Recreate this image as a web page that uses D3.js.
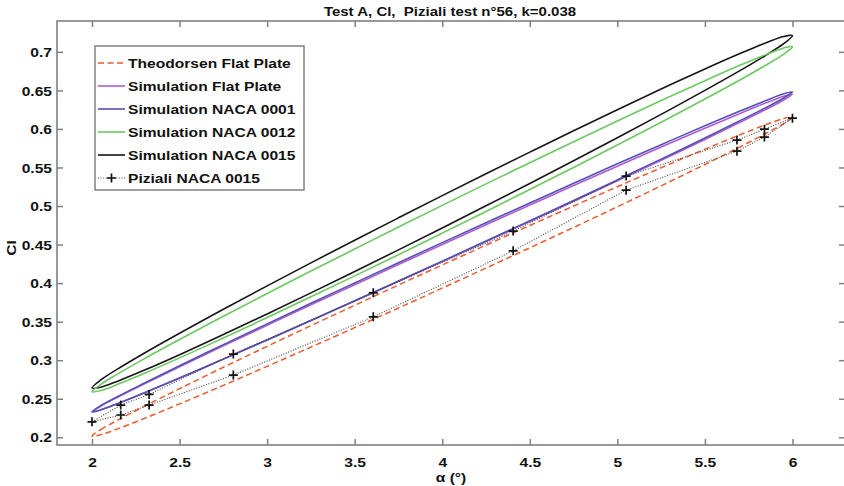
<!DOCTYPE html>
<html>
<head>
<meta charset="utf-8">
<script src="https://cdn.jsdelivr.net/npm/d3@7"></script>
<style>
  html, body { margin: 0; padding: 0; background: #fff; }
  svg { display: block; }
  text { font-family: "Liberation Sans", Arial, sans-serif; font-weight: bold; fill: #111; white-space: pre; }
</style>
</head>
<body>
<svg id="chart" width="844" height="486"></svg>
<script>
// ---------- data ----------
const titleText = "Test A, Cl,  Piziali test n°56, k=0.038";
const xLabel = "α (°)";
const yLabel = "Cl";
const xTicks = [2, 2.5, 3, 3.5, 4, 4.5, 5, 5.5, 6];
const yTicks = [0.2, 0.25, 0.3, 0.35, 0.4, 0.45, 0.5, 0.55, 0.6, 0.65, 0.7];
const seriesNames = ["Theodorsen Flat Plate", "Simulation Flat Plate", "Simulation NACA 0001",
                     "Simulation NACA 0012", "Simulation NACA 0015", "Piziali NACA 0015"];

// angle of attack samples for the simulated / theoretical loops
const alphaPts = [2, 2.05, 2.15, 2.3, 2.5, 2.75, 3, 3.25, 3.5, 3.75, 4, 4.25, 4.5, 4.75, 5, 5.25, 5.5, 5.7, 5.85, 5.95, 6];

const theoUpper = [0.2015, 0.2100, 0.2227, 0.2404, 0.2631, 0.2908, 0.3180, 0.3448, 0.3712, 0.3975, 0.4235, 0.4493, 0.4748, 0.5000, 0.5250, 0.5496, 0.5737, 0.5924, 0.6057, 0.6136, 0.6155];
const theoLower = [0.2015, 0.2034, 0.2113, 0.2246, 0.2433, 0.2674, 0.2920, 0.3170, 0.3422, 0.3677, 0.3935, 0.4195, 0.4458, 0.4722, 0.4990, 0.5262, 0.5539, 0.5766, 0.5943, 0.6070, 0.6155];

const flatUpper = [0.2332, 0.2405, 0.2525, 0.2695, 0.2916, 0.3187, 0.3453, 0.3718, 0.3980, 0.4241, 0.4500, 0.4757, 0.5012, 0.5266, 0.5517, 0.5766, 0.6010, 0.6201, 0.6339, 0.6424, 0.6450];
const flatLower = [0.2332, 0.2357, 0.2441, 0.2579, 0.2770, 0.3015, 0.3263, 0.3514, 0.3768, 0.4023, 0.4280, 0.4539, 0.4800, 0.5062, 0.5327, 0.5594, 0.5864, 0.6085, 0.6255, 0.6376, 0.6450];

const n0001Upper = [0.2330, 0.2409, 0.2532, 0.2704, 0.2928, 0.3202, 0.3471, 0.3738, 0.4002, 0.4265, 0.4525, 0.4783, 0.5040, 0.5294, 0.5547, 0.5796, 0.6040, 0.6232, 0.6370, 0.6455, 0.6480];
const n0001Lower = [0.2330, 0.2355, 0.2440, 0.2578, 0.2770, 0.3014, 0.3263, 0.3516, 0.3770, 0.4027, 0.4285, 0.4545, 0.4808, 0.5072, 0.5339, 0.5608, 0.5882, 0.6106, 0.6278, 0.6401, 0.6480];

const n0012Upper = [0.2590, 0.2686, 0.2826, 0.3021, 0.3268, 0.3570, 0.3865, 0.4156, 0.4442, 0.4727, 0.5008, 0.5287, 0.5562, 0.5834, 0.6103, 0.6368, 0.6626, 0.6825, 0.6966, 0.7050, 0.7066];
const n0012Lower = [0.2590, 0.2606, 0.2690, 0.2831, 0.3030, 0.3288, 0.3553, 0.3822, 0.4094, 0.4369, 0.4648, 0.4929, 0.5214, 0.5500, 0.5791, 0.6086, 0.6388, 0.6635, 0.6830, 0.6970, 0.7066];

const n0015Upper = [0.2640, 0.2744, 0.2891, 0.3094, 0.3350, 0.3661, 0.3964, 0.4263, 0.4557, 0.4847, 0.5135, 0.5419, 0.5699, 0.5977, 0.6250, 0.6517, 0.6778, 0.6978, 0.7119, 0.7200, 0.7210];
const n0015Lower = [0.2640, 0.2650, 0.2731, 0.2872, 0.3072, 0.3333, 0.3600, 0.3873, 0.4151, 0.4431, 0.4715, 0.5003, 0.5293, 0.5587, 0.5886, 0.6189, 0.6500, 0.6756, 0.6959, 0.7106, 0.7210];

// Piziali experimental points
const pizAlpha = [2.0, 2.164, 2.326, 2.807, 3.606, 4.405, 5.05, 5.683, 5.84, 6.0];
const pizUpper = [0.2201, 0.2418, 0.2556, 0.3079, 0.3874, 0.4675, 0.5388, 0.5855, 0.5997, 0.6140];
const pizLower = [0.2201, 0.2289, 0.2418, 0.2807, 0.3563, 0.4419, 0.5206, 0.5712, 0.5894, 0.6140];

// ---------- layout ----------
const W = 844, H = 486;
const plot = { left: 57, right: 845, top: 21, bottom: 445 };
const SX = 1.2; // horizontal stretch of the text, as in the reference

const svg = d3.select("#chart");
const x = d3.scaleLinear().domain([1.8, 6.3]).range([plot.left, plot.right]);
const y = d3.scaleLinear().domain([0.19, 0.74]).range([plot.bottom, plot.top]);

const clipId = "plotclip";
svg.append("clipPath").attr("id", clipId).append("rect")
  .attr("x", plot.left).attr("y", plot.top)
  .attr("width", plot.right - plot.left).attr("height", plot.bottom - plot.top);

const styles = [
  { color: "#ec5a2e", width: 1.5, dash: "6,3.5" },
  { color: "#b15ccc", width: 1.6, dash: null },
  { color: "#5451b7", width: 1.6, dash: null },
  { color: "#6cc860", width: 1.6, dash: null },
  { color: "#161616", width: 1.6, dash: null },
  { color: "#444444", width: 1.1, dash: "1,1.6" }
];

function loop(upper, lower, alphas) {
  const pts = alphas.map((a, i) => [a, upper[i]]);
  for (let i = alphas.length - 2; i >= 1; i--) pts.push([alphas[i], lower[i]]);
  return pts;
}

const lineClosed = d3.line().x(d => x(d[0])).y(d => y(d[1])).curve(d3.curveCatmullRomClosed.alpha(0.5));
const lineOpen = d3.line().x(d => x(d[0])).y(d => y(d[1]));

const g = svg.append("g").attr("clip-path", `url(#${clipId})`);

const pizLoop = pizAlpha.map((a, i) => [a, pizUpper[i]]);
for (let i = pizAlpha.length - 1; i >= 0; i--) pizLoop.push([pizAlpha[i], pizLower[i]]);

const loops = [
  loop(theoUpper, theoLower, alphaPts),
  loop(flatUpper, flatLower, alphaPts),
  loop(n0001Upper, n0001Lower, alphaPts),
  loop(n0012Upper, n0012Lower, alphaPts),
  loop(n0015Upper, n0015Lower, alphaPts)
];
const drawOrder = [4, 3, 1, 2, 0];
drawOrder.forEach(k => {
  g.append("path").datum(loops[k]).attr("d", lineClosed)
    .attr("fill", "none").attr("stroke", styles[k].color)
    .attr("stroke-width", styles[k].width)
    .attr("stroke-dasharray", styles[k].dash);
});
g.append("path").datum(pizLoop).attr("d", lineOpen)
  .attr("fill", "none").attr("stroke", styles[5].color)
  .attr("stroke-width", styles[5].width).attr("stroke-dasharray", styles[5].dash);

// Piziali markers
const pizPts = pizAlpha.map((a, i) => [a, pizUpper[i]]).concat(pizAlpha.slice(1, -1).map((a, i) => [a, pizLower[i + 1]]));
g.selectAll(".plus").data(pizPts).enter().append("path")
  .attr("class", "plus")
  .attr("d", d => `M${x(d[0]) - 4.5},${y(d[1])}H${x(d[0]) + 4.5}M${x(d[0])},${y(d[1]) - 4.5}V${y(d[1]) + 4.5}`)
  .attr("stroke", "#111").attr("stroke-width", 1.7).attr("fill", "none");

// ---------- axes (box with inward ticks) ----------
const axisColor = "#808080";
const tickLen = 6;
svg.append("rect").attr("x", plot.left).attr("y", plot.top)
  .attr("width", plot.right - plot.left).attr("height", plot.bottom - plot.top)
  .attr("fill", "none").attr("stroke", axisColor).attr("stroke-width", 1.6);

const xAxisB = d3.axisBottom(x).tickValues(xTicks).tickSize(-tickLen).tickFormat(d3.format("~g")).tickPadding(13);
const xAxisT = d3.axisTop(x).tickValues(xTicks).tickSize(-tickLen).tickFormat("");
const yAxisL = d3.axisLeft(y).tickValues(yTicks).tickSize(-tickLen).tickFormat(d3.format("~g")).tickPadding(5);
const yAxisR = d3.axisRight(y).tickValues(yTicks).tickSize(-tickLen).tickFormat("");

function styleAxis(sel) {
  sel.select(".domain").remove();
  sel.selectAll(".tick line").attr("stroke", axisColor).attr("stroke-width", 1.5);
  sel.selectAll(".tick text").attr("fill", "#111").style("font-size", "13px").style("font-weight", "bold")
    .style("font-family", '"Liberation Sans", Arial, sans-serif');
}
const gxB = svg.append("g").attr("transform", `translate(0,${plot.bottom})`).call(xAxisB).call(styleAxis);
svg.append("g").attr("transform", `translate(0,${plot.top})`).call(xAxisT).call(styleAxis);
const gyL = svg.append("g").attr("transform", `translate(${plot.left},0)`).call(yAxisL).call(styleAxis);
svg.append("g").attr("transform", `translate(${plot.right},0)`).call(yAxisR).call(styleAxis);

gxB.selectAll(".tick text").attr("transform", `scale(${SX},1)`);
gyL.selectAll(".tick text").attr("transform", `scale(${SX},1)`).attr("x", -5 / SX).attr("dy", "0.36em");

// ---------- titles ----------
function stretchedText(parent, tx, ty, str, size, anchor, rot) {
  return parent.append("text")
    .attr("transform", `translate(${tx},${ty})` + (rot ? ` rotate(${rot})` : "") + ` scale(${SX},1)`)
    .attr("text-anchor", anchor).style("font-size", size + "px").text(str);
}
stretchedText(svg, 450, 16, titleText, 12.5, "middle");
stretchedText(svg, 451, 482, xLabel, 13, "middle");
stretchedText(svg, 16, 248, yLabel, 13, "middle", -90);

// ---------- legend ----------
const leg = svg.append("g");
const legBox = { x: 95, y: 46, w: 209, h: 144 };
leg.append("rect").attr("x", legBox.x).attr("y", legBox.y).attr("width", legBox.w).attr("height", legBox.h)
  .attr("fill", "#fff").attr("stroke", axisColor).attr("stroke-width", 1.5);
const rowY0 = 63, rowStep = 23;
seriesNames.forEach((name, i) => {
  const ry = rowY0 + i * rowStep;
  leg.append("line").attr("x1", 98).attr("x2", 125).attr("y1", ry).attr("y2", ry)
    .attr("stroke", styles[i].color).attr("stroke-width", styles[i].width)
    .attr("stroke-dasharray", styles[i].dash);
  if (i === 5) {
    leg.append("path").attr("d", `M107,${ry}H116M111.5,${ry - 4.5}V${ry + 4.5}`)
      .attr("stroke", "#111").attr("stroke-width", 1.7);
  }
  stretchedText(leg, 128, ry + 4.7, name, 13, "start");
});
</script>
</body>
</html>
